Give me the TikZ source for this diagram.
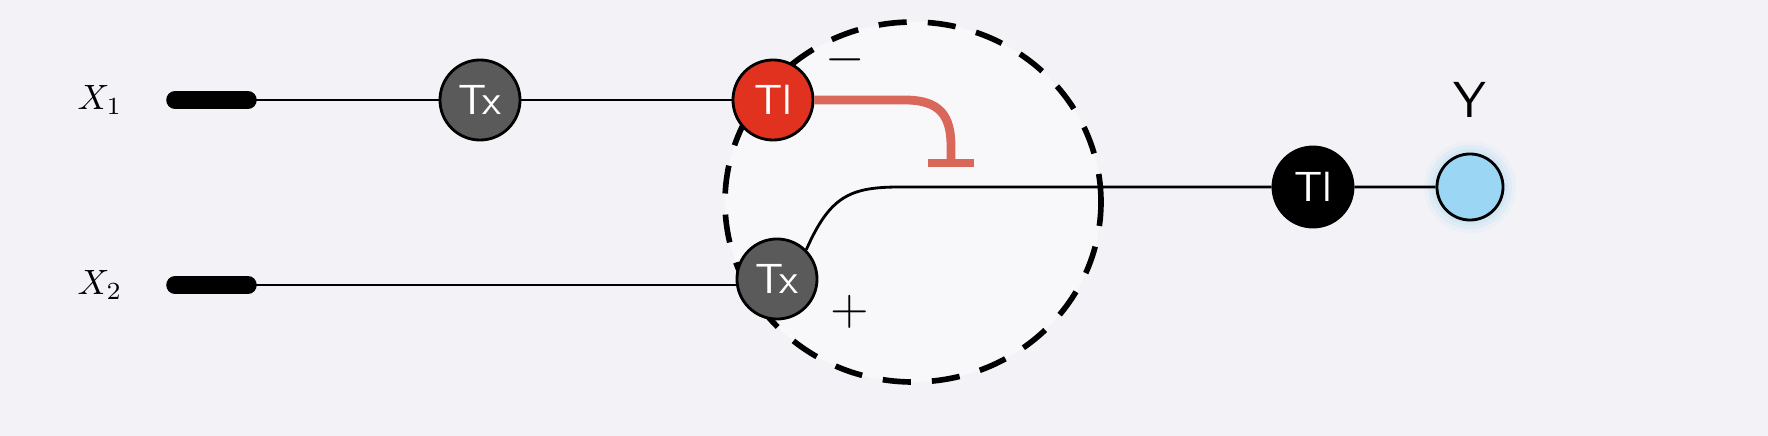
\documentclass[tikz,border=0pt]{standalone}
\usepackage{tikz}
\usetikzlibrary{positioning}
\definecolor{bg}{HTML}{F2F2F7}
\definecolor{tlred}{HTML}{E0321F}
\definecolor{inhib}{HTML}{D9675A}
\definecolor{tgrey}{HTML}{5A5A5A}
\definecolor{ylight}{HTML}{9CD6F5}
\tikzset{
  gene/.style={circle,draw=black,thick,minimum size=0.8cm,inner sep=0pt,text=white,font=\sffamily\large},
  grey/.style={gene,fill=tgrey},
  input/.style={line width=5pt,line cap=round}
}
\begin{document}
\begin{tikzpicture}[x=0.01cm,y=0.01cm]
  \fill[bg] (0,0) rectangle (1768,436);
  \useasboundingbox (0,0) rectangle (1768,436);
  \fill[white,opacity=0.5] (913,234) ellipse (188 and 180);
  \draw[line width=1.6pt,dash pattern=on 8pt off 6pt] (913,234) ellipse (188 and 180);
  % inputs
  \node (x1) at (100,336) {$X_1$};
  \node (x2) at (100,151) {$X_2$};
  \coordinate (a1) at (175,336); \coordinate (b1) at (248,336);
  \coordinate (a2) at (175,151); \coordinate (b2) at (248,151);
  \draw[input] (a1) -- (b1);
  \draw[input] (a2) -- (b2);
  % genes
  \node[grey] (tx1) at (480,336) {Tx};
  \node[gene,fill=tlred] (tl1) at (773,336) {Tl};
  \node[grey] (tx2) at (777,157) {Tx};
  \node[gene,fill=black] (tl2) at (1313,249) {Tl};
  \foreach \r/\o in {46/0.08,42/0.12,38/0.18}
    \fill[ylight,opacity=\o] (1470,249) circle (\r);
  \node[circle,draw=black,thick,fill=ylight,minimum size=0.66cm] (y) at (1470,249) {};
  \node[font=\sffamily\Large] (ylab) at (1470,336) {Y};
  \draw[thick] (b1) -- (tx1) -- (tl1);
  \draw[thick] (b2) -- (tx2.west |- b2);
  \draw[thick] (tx2.north east) .. controls (830,240) and (850,249) .. (900,249) -- (tl2) -- (y);
  % repression
  \coordinate (bar) at (951,273);
  \draw[inhib,line width=2.5pt] (tl1.east) -- (905,336) .. controls (940,336) and (951,320) .. (951,290) -- (bar);
  \draw[inhib,line width=2.5pt] (928,273) -- (974,273);
  \node[font=\Large] (minus) at (845,376) {$-$};
  \node[font=\Large] (plus) at (850,124) {$+$};
\end{tikzpicture}
\end{document}
